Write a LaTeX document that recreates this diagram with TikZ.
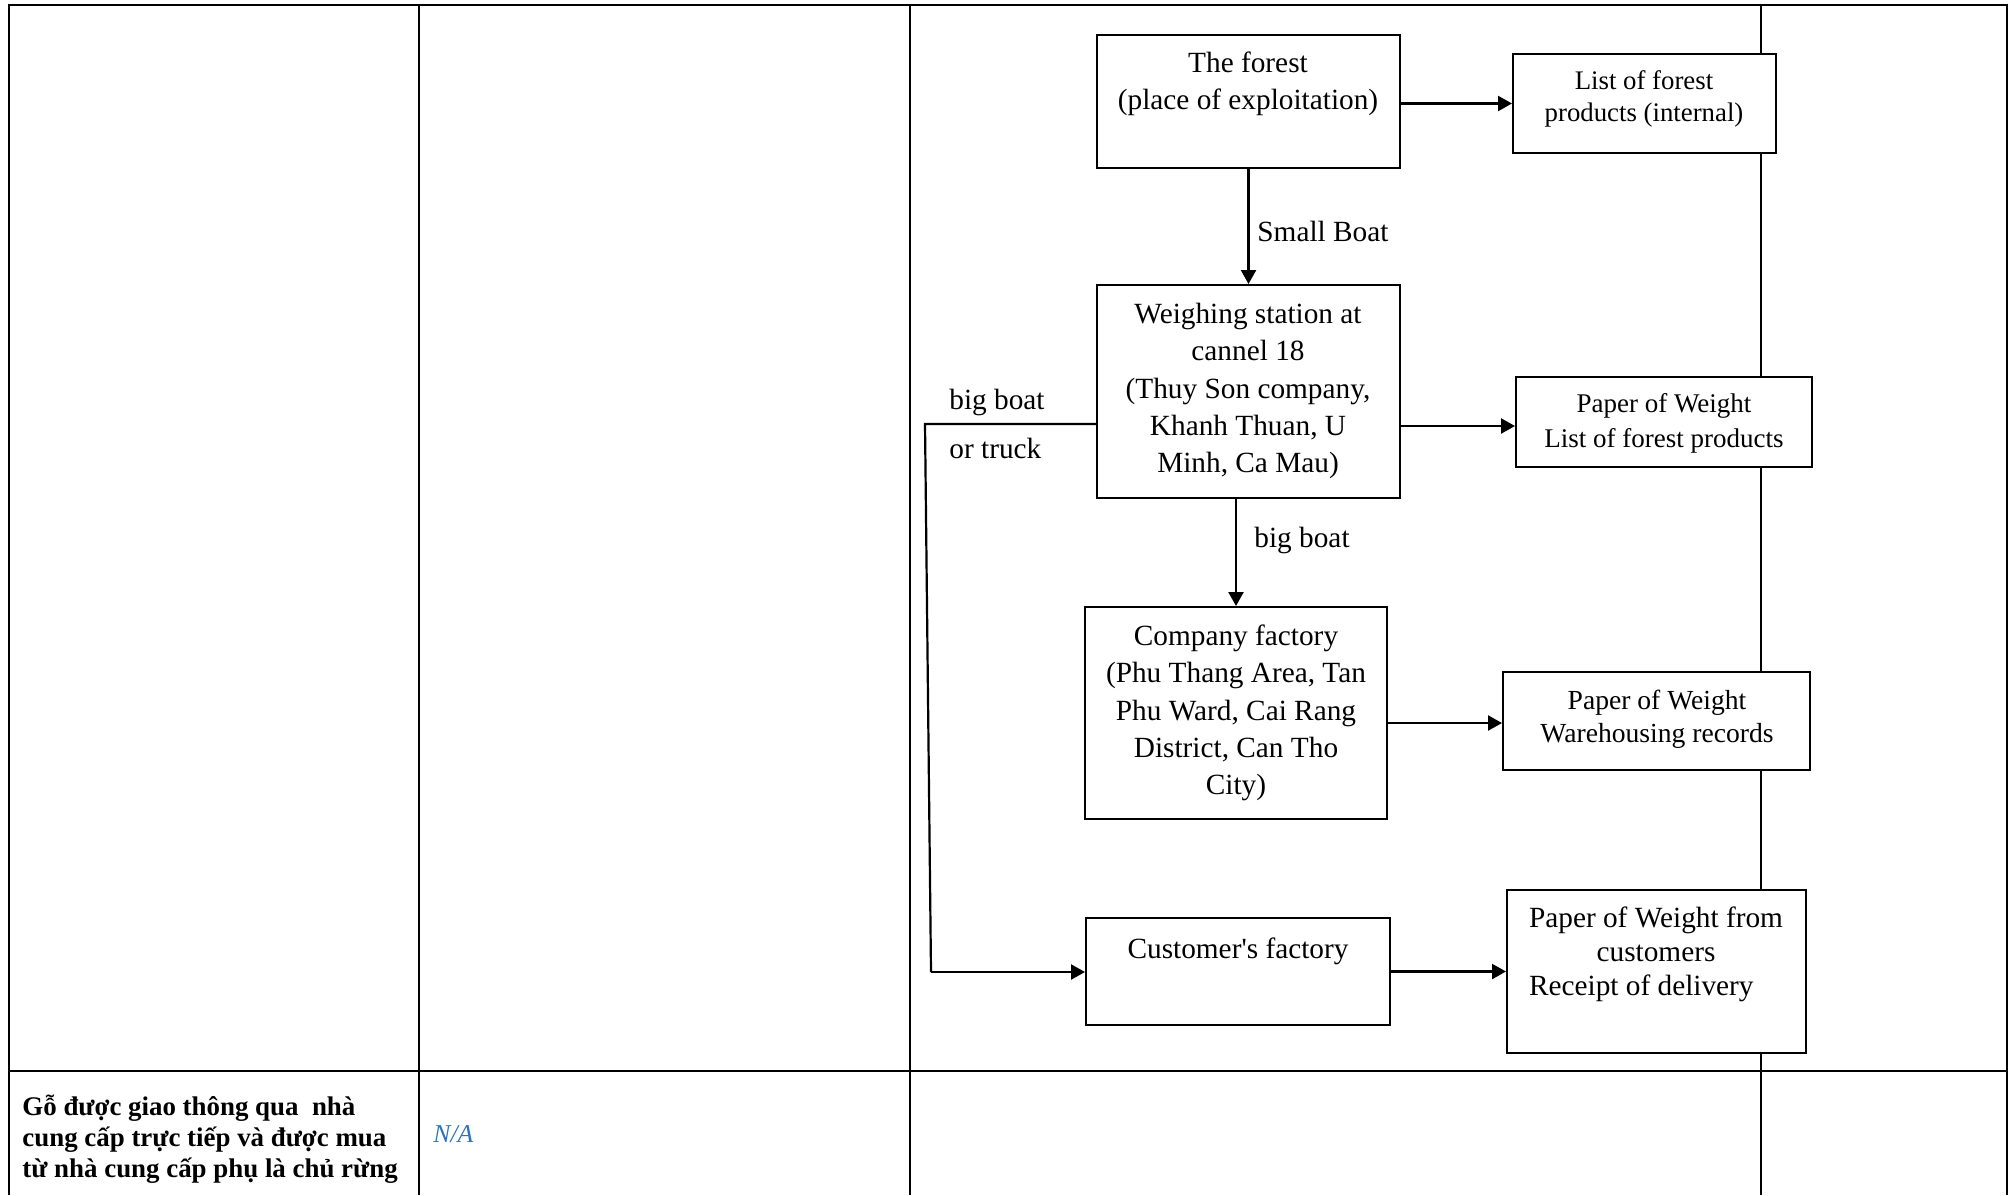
\documentclass[tikz,border=0pt]{standalone}
\usepackage{fontspec}
\setmainfont{Liberation Serif}
\usetikzlibrary{arrows.meta,fit}
\definecolor{nablue}{RGB}{46,116,181}
\begin{document}
\begin{tikzpicture}[x=0.5pt,y=-0.5pt,
  gridline/.style={line width=1.2pt},
  box/.style={draw,line width=1pt,inner sep=0pt},
  arr/.style={line width=1.15pt,-{Triangle[length=7pt,width=7.5pt]}},
  conn/.style={line width=1.1pt},
  bigtxt/.style={font=\fontsize{14.65}{18.6}\selectfont,align=center,inner sep=0pt},
  smalltxt/.style={font=\fontsize{13.5}{16.8}\selectfont,align=center,inner sep=0pt},
  lbl/.style={font=\fontsize{14.65}{18.6}\selectfont,inner sep=0pt,anchor=west}
]
\useasboundingbox (0,0) rectangle (2016,1195);
% table grid
\draw[gridline] (9,1195) -- (9,5) -- (2007,5) -- (2007,1195);
\draw[gridline] (9,1071) -- (2007,1071);
\draw[gridline] (419,5) -- (419,1195);
\draw[gridline] (910,5) -- (910,1195);
\draw[gridline] (1761,5) -- (1761,1195);

% boxes
\node[box,fill=white,fit={(1097,35)(1400,168)}] (forest) {};
\node[box,fill=white,fit={(1513,54)(1776,153)}] (list) {};
\node[box,fill=white,fit={(1097,285)(1400,498)}] (weigh) {};
\node[box,fill=white,fit={(1516,377)(1812,467)}] (paperA) {};
\node[box,fill=white,fit={(1085,607)(1387,819)}] (company) {};
\node[box,fill=white,fit={(1503,672)(1810,770)}] (paperB) {};
\node[box,fill=white,fit={(1086,918)(1390,1025)}] (customer) {};
\node[box,fill=white,fit={(1507,890)(1806,1053)}] (paperC) {};

% box texts
\node[bigtxt] (forestT) at (1248,84) {The forest\\(place of exploitation)};
\node[smalltxt,font=\fontsize{13.4}{16}\selectfont] (listT) at (1644,99) {List of forest\\products (internal)};
\node[bigtxt] (weighT) at (1248,391) {Weighing station at\\cannel 18\\(Thuy Son company,\\Khanh Thuan, U\\Minh, Ca Mau)};
\node[smalltxt,font=\fontsize{13.5}{17.4}\selectfont] (paperAT) at (1664,423) {Paper of Weight\\List of forest products};
\node[bigtxt] (companyT) at (1236,713) {Company factory\\(Phu Thang Area, Tan\\Phu Ward, Cai Rang\\District, Can Tho\\City)};
\node[smalltxt,font=\fontsize{13.8}{16.7}\selectfont] (paperBT) at (1657,719) {Paper of Weight\\Warehousing records};
\node[bigtxt] (customerT) at (1238,951) {Customer\textquotesingle s factory};
\node[inner sep=0pt,font=\fontsize{14.65}{17}\selectfont] (paperCT) at (1656,955)
  {\begin{tabular}{@{}c@{}}Paper of Weight from\\customers\\\multicolumn{1}{@{}l@{}}{Receipt of delivery}\end{tabular}};

% connectors
\draw[arr] (forest.east |- list.west) -- (list.west);
\draw[arr] (forest.south) -- (weigh.north);
\draw[arr] ([yshift=-2]weigh.east |- paperA.west) -- ([yshift=-2]paperA.west);
\draw[arr] (weigh.south -| company.north) -- (company.north);
\draw[arr] ([yshift=-1]company.east |- paperB.west) -- ([yshift=-1]paperB.west);
\draw[arr] (customer.east) -- (paperC.west);
\coordinate (bendA) at (925,424);
\coordinate (bendB) at (931,972);
\draw[conn] (bendA -| weigh.west) -- (bendA) -- (bendB);
\draw[arr] (bendB) -- (bendB -| customer.west);

% connector labels
\node[lbl] (lblSmall) at (1257,231) {Small Boat};
\node[lbl] (lblBig) at (1254,540) {big boat};
\node[lbl] (lblSide1) at (949,402) {big boat};
\node[lbl] (lblSide2) at (949,448) {or truck};

% bottom row
\node[inner sep=0pt,anchor=west,align=left,font=\fontsize{13.45}{15.5}\selectfont\bfseries] (rowT) at (22,1139)
  {Gỗ được giao thông qua\ \ nhà\\cung cấp trực tiếp và được mua\\từ nhà cung cấp phụ là chủ rừng};
\node[inner sep=0pt,anchor=west,text=nablue,font=\fontsize{12.85}{15}\selectfont\itshape] (naT) at (433,1134) {N/A};
\end{tikzpicture}
\end{document}
